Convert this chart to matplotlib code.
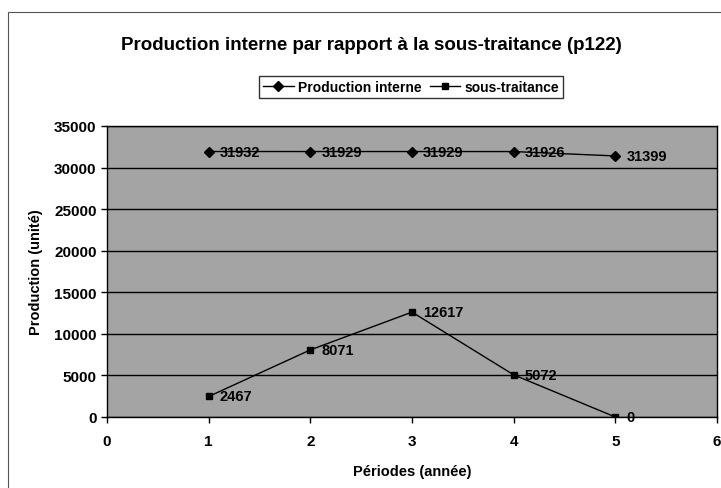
import matplotlib.pyplot as plt
from matplotlib.patches import Rectangle

plt.rcParams['font.family'] = ['Liberation Sans', 'DejaVu Sans']
plt.rcParams['font.weight'] = 'bold'

periodes = [1, 2, 3, 4, 5]
production_interne = [31932, 31929, 31929, 31926, 31399]
sous_traitance = [2467, 8071, 12617, 5072, 0]

fig = plt.figure(figsize=(7.21, 4.89), dpi=100)
ax = fig.add_axes([107 / 721, 1 - 418 / 489, 610 / 721, 291 / 489])

# chart frame around everything
fig.patches.append(Rectangle((8 / 721, -0.05), 1.0, 1 - 13 / 489 + 0.05,
                             transform=fig.transFigure, fill=False,
                             edgecolor='#555555', linewidth=0.8))

ax.set_facecolor('#a4a4a4')
ax.plot(periodes, production_interne, color='black', lw=1, marker='D',
        markersize=5, label='Production interne')
ax.plot(periodes, sous_traitance, color='black', lw=1, marker='s',
        markersize=5, label='sous-traitance')

for x, y in zip(periodes, production_interne):
    ax.annotate(str(y), (x, y), xytext=(8, 0), textcoords='offset points',
                va='center', ha='left', fontsize=10.5, fontweight='bold')
for x, y in zip(periodes, sous_traitance):
    ax.annotate(str(y), (x, y), xytext=(8, 0), textcoords='offset points',
                va='center', ha='left', fontsize=10.5, fontweight='bold')

ax.set_xlim(0, 6)
ax.set_ylim(0, 35000)
ax.set_xticks(range(0, 7))
ax.set_yticks(range(0, 35001, 5000))
ax.yaxis.grid(True, color='black', lw=1)
ax.set_axisbelow(True)
ax.tick_params(axis='both', direction='out', length=4, labelsize=11, width=1)
ax.tick_params(axis='x', pad=8)
for lbl in ax.get_xticklabels() + ax.get_yticklabels():
    lbl.set_fontweight('bold')
for s in ax.spines.values():
    s.set_color('black')
    s.set_linewidth(1)

ax.set_xlabel('Périodes (année)', fontsize=10.5, fontweight='bold', labelpad=12)
ax.set_ylabel('Production (unité)', fontsize=10.5, fontweight='bold', labelpad=8)

fig.text(371 / 721, 1 - 46 / 489, 'Production interne par rapport à la sous-traitance (p122)',
         ha='center', va='center', fontsize=13.5, fontweight='bold')

leg = fig.legend(loc='center', bbox_to_anchor=(411 / 721, 1 - 88 / 489), ncol=2,
                 frameon=True, fancybox=False, edgecolor='black', fontsize=10,
                 handlelength=2.2, handletextpad=0.3, columnspacing=0.6,
                 borderpad=0.3)
leg.get_frame().set_linewidth(1)

fig.savefig('out.png', dpi=100, facecolor='white')
